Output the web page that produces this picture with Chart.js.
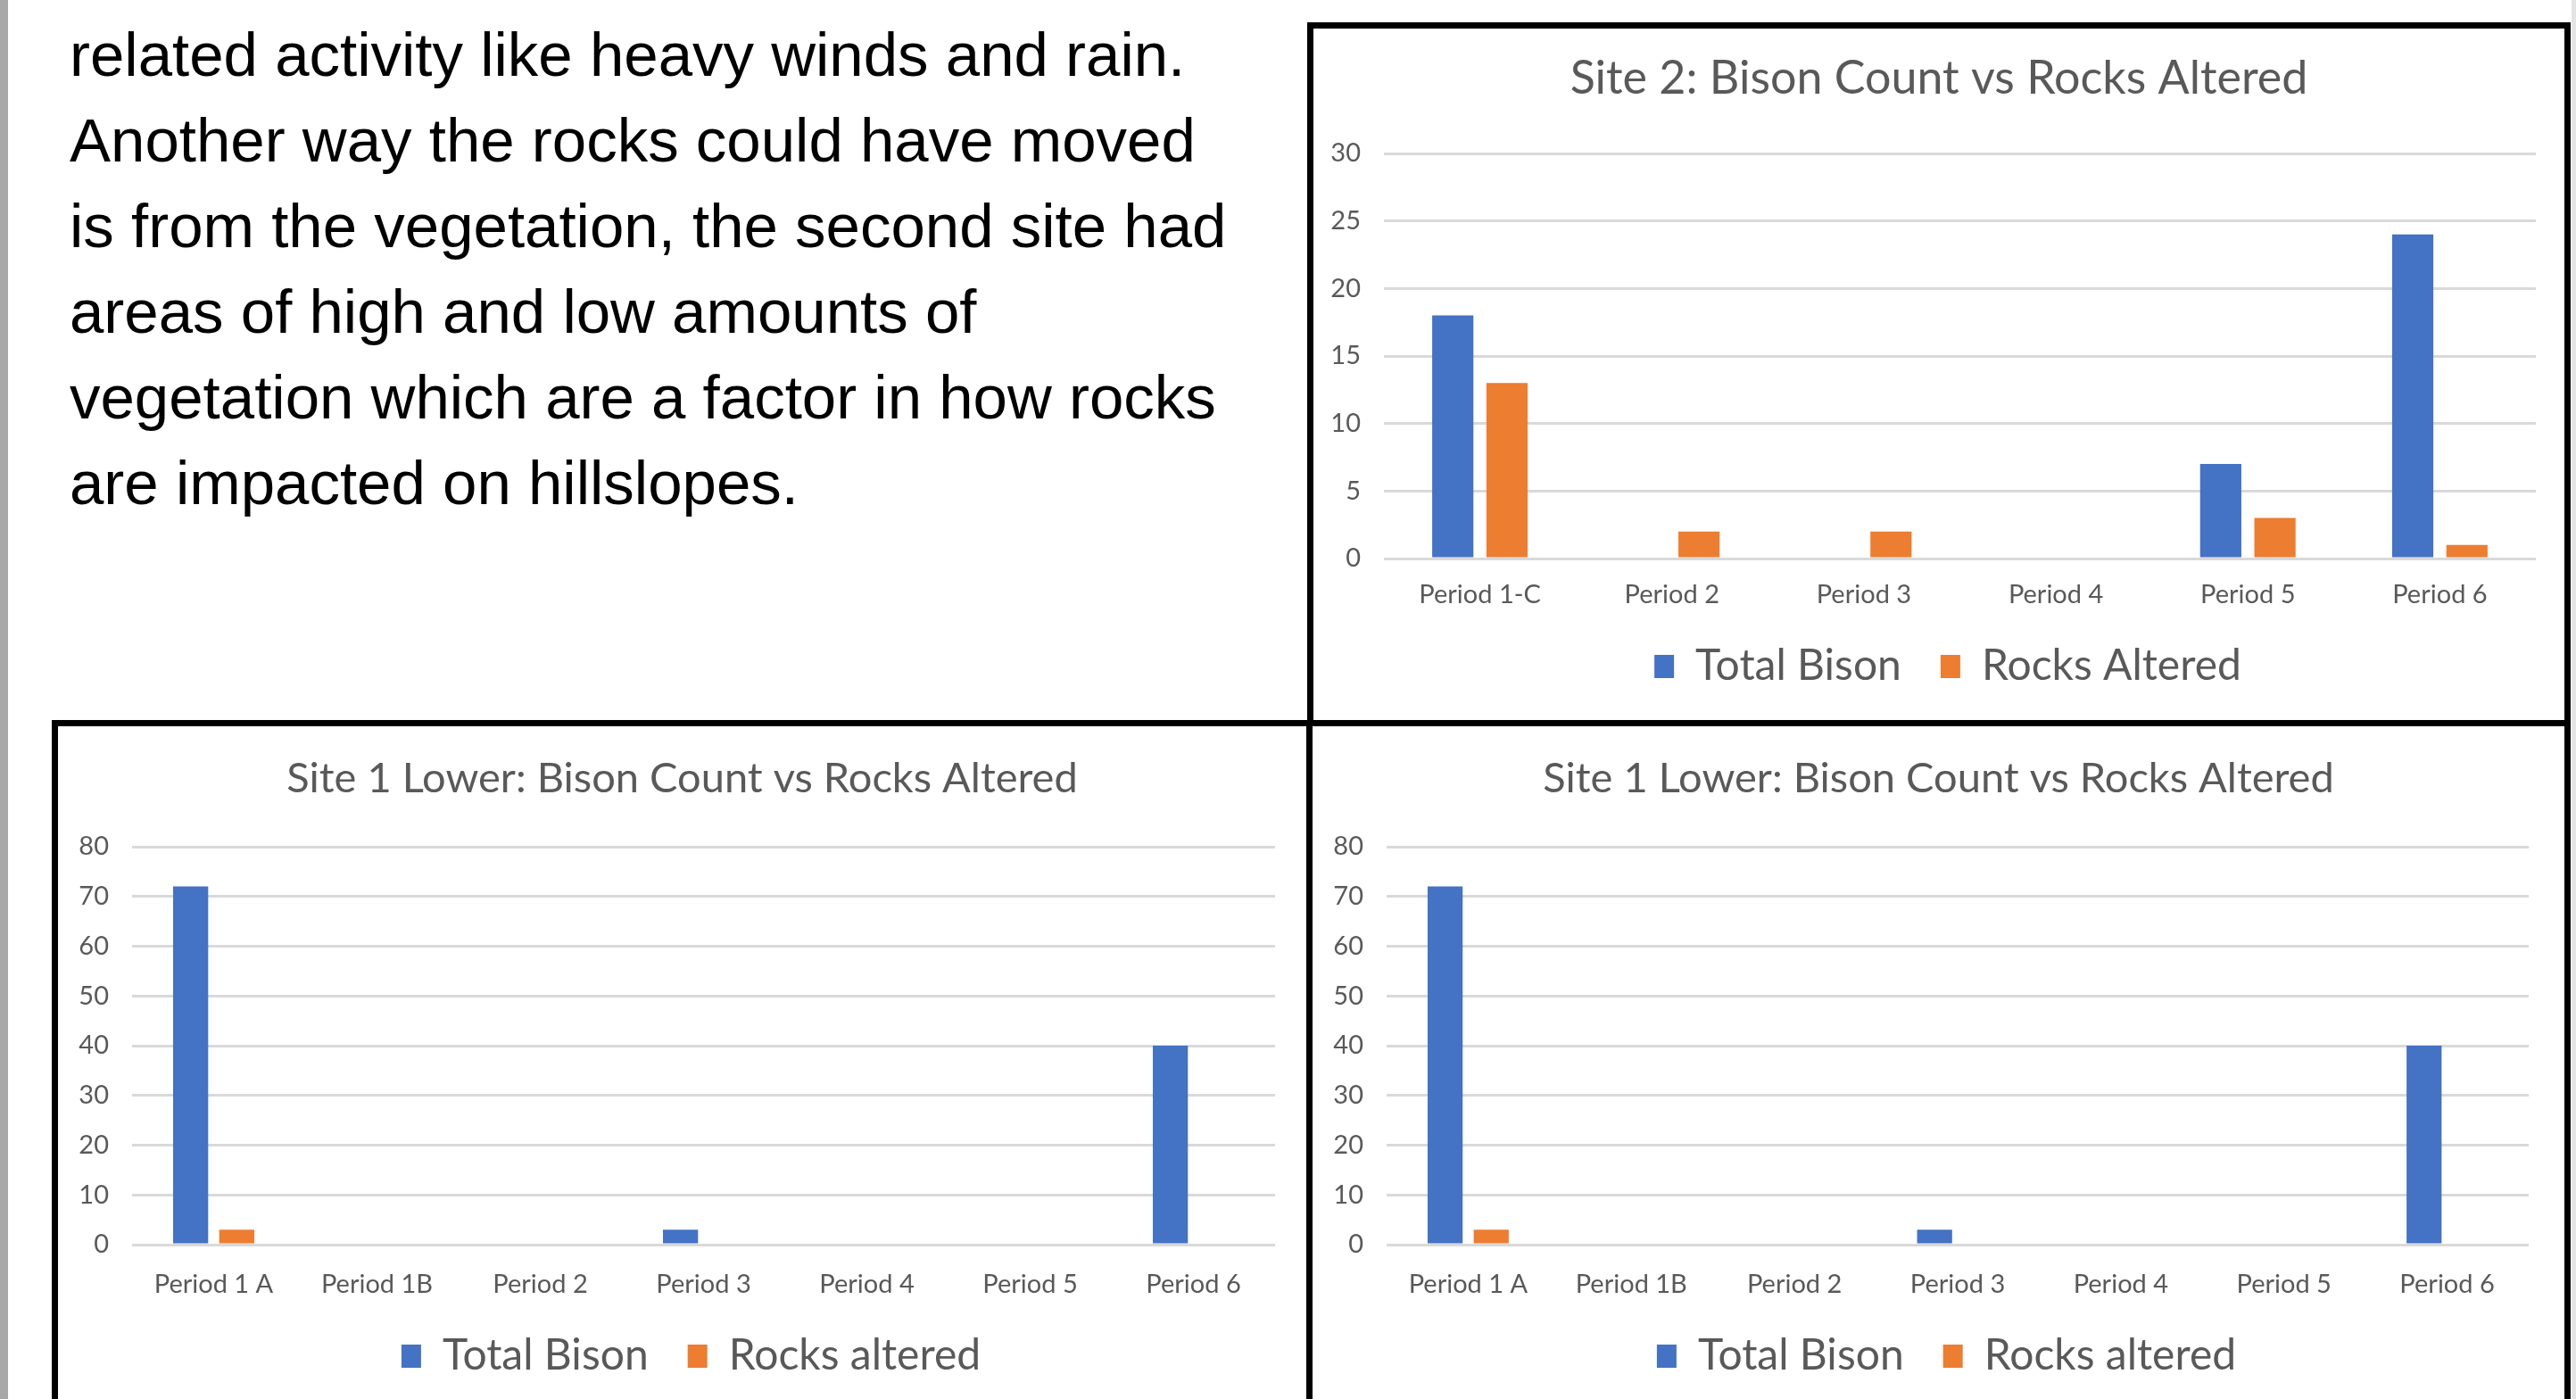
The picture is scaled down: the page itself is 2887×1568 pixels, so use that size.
<!DOCTYPE html>
<html>
<head>
<meta charset="utf-8">
<script src="https://cdn.jsdelivr.net/npm/chart.js@4/dist/chart.umd.min.js"></script>
<style>
  html, body { margin: 0; padding: 0; background: #fff; width: 2887px; height: 1568px; overflow: hidden; }
  body { position: relative; }
  .edge-left { position: absolute; left: 0; top: 0; width: 9px; height: 1568px; background: #a8a8a8; }
  .edge-right { position: absolute; right: 0; top: 0; width: 5px; height: 1568px; background: #e4e4e4; }
  .para {
    position: absolute; left: 78px; top: 14px;
    font-family: "Liberation Sans", Arial, sans-serif;
    font-size: 69px; line-height: 96px; color: #000; white-space: nowrap;
  }
  .box { position: absolute; border: 7px solid #000; box-sizing: border-box; }
  canvas { position: absolute; }
</style>
</head>
<body>
<div class="edge-left"></div>
<div class="edge-right"></div>

<div class="para">
related activity like heavy winds and rain.<br>
Another way the rocks could have moved<br>
is from the vegetation, the second site had<br>
areas of high and low amounts of<br>
vegetation which are a factor in how rocks<br>
are impacted on hillslopes.
</div>

<div class="box" style="left:1465px; top:25px; width:1416px; height:789px;"></div>
<div class="box" style="left:58px; top:807px; width:1413px; height:800px;"></div>
<div class="box" style="left:1464px; top:807px; width:1417px; height:800px;"></div>

<canvas id="site2" width="1402" height="775" style="left:1472px; top:32px;"></canvas>
<canvas id="site1a" width="1399" height="754" style="left:65px; top:814px;"></canvas>
<canvas id="site1b" width="1403" height="754" style="left:1471px; top:814px;"></canvas>

<script>
// Site 2 counts per period
const site2Periods = ['Period 1-C', 'Period 2', 'Period 3', 'Period 4', 'Period 5', 'Period 6'];
const site2TotalBison = [18, 0, 0, 0, 7, 24];
const site2RocksAltered = [13, 2, 2, 0, 3, 1];
const site2Ticks = { max: 30, step: 5 };

// Site 1 lower counts per period
const site1Periods = ['Period 1 A', 'Period 1B', 'Period 2', 'Period 3', 'Period 4', 'Period 5', 'Period 6'];
const site1TotalBison = [72, 0, 0, 3, 0, 0, 40];
const site1RocksAltered = [3, 0, 0, 0, 0, 0, 0];
const site1Ticks = { max: 80, step: 10 };

const BLUE = '#4472C4';
const ORANGE = '#ED7D31';
const TEXT = '#595959';
const FONT = 'Lato, "Open Sans", sans-serif';

const TICK_SIZE = 29;
const LEGEND_SIZE = 48;
const LEGEND_PAD = 44;
const LEGEND_ITEM = Math.max(LEGEND_SIZE, 26);

// Title and legend span the whole canvas width (the right layout padding only trims the plot)
function recenter(legendDx) {
  return {
    id: 'recenter',
    afterLayout(chart) {
      const W = chart.width;
      if (chart.titleBlock) { chart.titleBlock.left = 0; chart.titleBlock.right = W; }
      if (chart.legend) { chart.legend.left = 2 * legendDx; chart.legend.right = W; }
    }
  };
}

function bisonChart(id, title, titleSize, labels, bison, rocks, rocksLabel, ticks, box) {
  const H = document.getElementById(id).height;
  const legendTop = box.legendCenter - LEGEND_PAD - LEGEND_ITEM / 2;
  const legendH = LEGEND_ITEM + LEGEND_PAD + 10;
  const xAxisH = legendTop - box.plotBottom;
  const padBottom = H - legendTop - legendH;

  return new Chart(document.getElementById(id), {
    type: 'bar',
    data: {
      labels: labels,
      datasets: [
        { label: 'Total Bison', data: bison, backgroundColor: BLUE, borderWidth: 0,
          categoryPercentage: 0.565, barPercentage: 0.76 },
        { label: rocksLabel, data: rocks, backgroundColor: ORANGE, borderWidth: 0,
          categoryPercentage: 0.565, barPercentage: 0.76 }
      ]
    },
    plugins: [recenter(box.legendDx)],
    options: {
      responsive: false,
      animation: false,
      events: [],
      layout: { padding: { left: 0, top: 0, right: box.padRight, bottom: padBottom } },
      plugins: {
        tooltip: { enabled: false },
        title: {
          display: true,
          text: title,
          color: TEXT,
          font: { family: FONT, size: titleSize, weight: 'normal', lineHeight: 1.2 },
          padding: {
            top: box.titleCenter - 0.6 * titleSize,
            bottom: box.plotTop - box.titleCenter - 0.6 * titleSize
          }
        },
        legend: {
          display: true,
          position: 'bottom',
          labels: {
            color: TEXT,
            font: { family: FONT, size: LEGEND_SIZE },
            boxWidth: 22,
            boxHeight: 26,
            padding: LEGEND_PAD
          }
        }
      },
      scales: {
        x: {
          grid: { display: false, drawTicks: false },
          border: { display: false },
          ticks: {
            color: TEXT,
            font: { family: FONT, size: TICK_SIZE, lineHeight: 1.0 },
            padding: box.catOffset - 0.5 * TICK_SIZE,
            maxRotation: 0,
            autoSkip: false
          },
          afterFit: (scale) => { scale.height = xAxisH; }
        },
        y: {
          min: 0,
          max: ticks.max,
          grid: { color: '#d9d9d9', lineWidth: 3, drawTicks: false },
          border: { display: false },
          ticks: {
            stepSize: ticks.step,
            color: TEXT,
            font: { family: FONT, size: TICK_SIZE },
            padding: 26
          },
          afterFit: (scale) => { scale.width = box.yWidth; }
        }
      }
    }
  });
}

bisonChart('site2', 'Site 2: Bison Count vs Rocks Altered', 52,
  site2Periods, site2TotalBison, site2RocksAltered, 'Rocks Altered', site2Ticks,
  { yWidth: 79, padRight: 32, titleCenter: 56, plotTop: 140, plotBottom: 594, catOffset: 41, legendCenter: 715, legendDx: 10 });

bisonChart('site1a', 'Site 1 Lower: Bison Count vs Rocks Altered', 47,
  site1Periods, site1TotalBison, site1RocksAltered, 'Rocks altered', site1Ticks,
  { yWidth: 83, padRight: 35, titleCenter: 59, plotTop: 135, plotBottom: 581, catOffset: 45, legendCenter: 706, legendDx: 10 });

bisonChart('site1b', 'Site 1 Lower: Bison Count vs Rocks Altered', 47,
  site1Periods, site1TotalBison, site1RocksAltered, 'Rocks altered', site1Ticks,
  { yWidth: 83, padRight: 40, titleCenter: 59, plotTop: 135, plotBottom: 581, catOffset: 45, legendCenter: 706, legendDx: 9 });
</script>
</body>
</html>
